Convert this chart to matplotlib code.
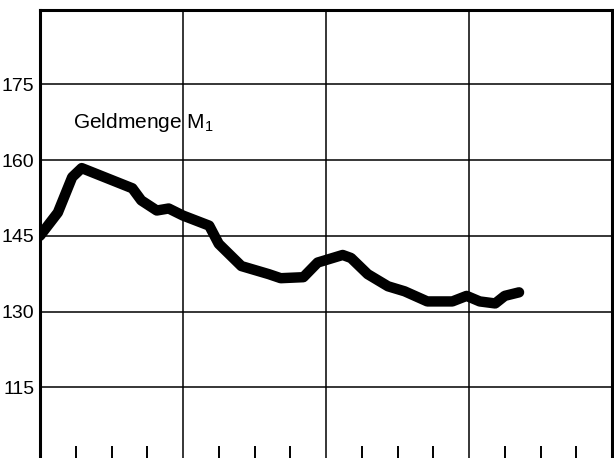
import numpy as np
import matplotlib.pyplot as plt

plt.rcParams['font.family'] = ['Liberation Sans', 'DejaVu Sans']
plt.rcParams['mathtext.default'] = 'regular'

# months since start of the chart, and index value
months = [0.0, 1.5, 2.7, 3.5, 7.75, 8.5, 9.8, 10.8, 12.0, 14.2, 15.0, 16.9,
          19.2, 20.2, 22.1, 23.3, 25.4, 26.1, 27.5, 29.2, 30.6, 32.5, 34.6,
          35.8, 36.9, 38.2, 39.0, 40.2]
m1_values = [145.0, 149.6, 156.6, 158.4, 154.4, 152.0, 150.0, 150.4, 149.0,
             147.0, 143.4, 139.0, 137.4, 136.6, 136.8, 139.7, 141.2, 140.6,
             137.4, 135.0, 134.0, 132.0, 132.0, 133.1, 132.0, 131.6, 133.1,
             133.8]

y_ticks = [115, 130, 145, 160, 175]
x_grid = [12, 24, 36]
x_minor = [3, 6, 9, 15, 18, 21, 27, 30, 33, 39, 42, 45]
label = 'Geldmenge M$_1$'

fig = plt.figure(figsize=(6.14, 4.58), dpi=100)
ax = fig.add_axes([40 / 614, 0.0, 572 / 614, 1 - 10 / 458])

ax.plot(months, m1_values, color='black', lw=7.5, solid_joinstyle='round',
        solid_capstyle='round', zorder=3)

ax.set_xlim(0, 48)
ax.set_ylim(101, 189.7)

for v in y_ticks:
    ax.axhline(v, color='black', lw=1.1, zorder=1)
for v in x_grid:
    ax.axvline(v, color='black', lw=1.1, zorder=1)

ax.set_yticks(y_ticks)
ax.set_yticklabels([str(v) for v in y_ticks], fontsize=14)
ax.tick_params(axis='y', length=0, pad=4)

ax.set_xticks(x_minor)
ax.set_xticklabels([])
ax.tick_params(axis='x', direction='in', length=9, width=1.4, color='black')

for side in ['left', 'right', 'top']:
    ax.spines[side].set_linewidth(2.2)
ax.spines['bottom'].set_visible(False)

ax.text(2.75, 166.3, label, fontsize=15, ha='left', va='baseline')

fig.savefig('out.png', dpi=100)
